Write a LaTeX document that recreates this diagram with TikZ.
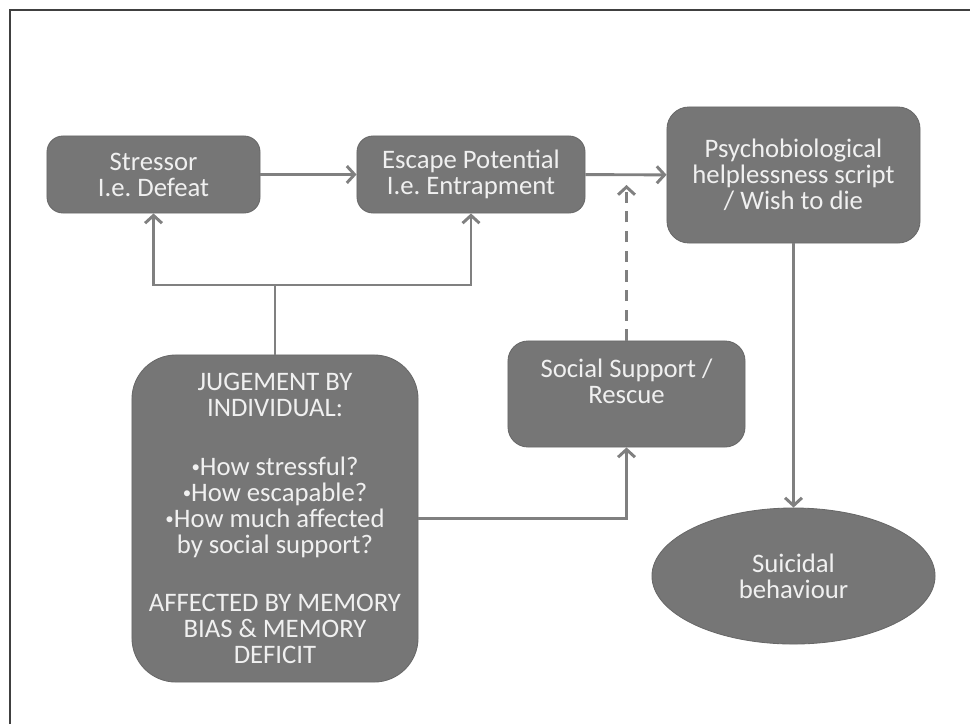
\documentclass[tikz,border=0pt]{standalone}
\usepackage{fontspec}
\setmainfont{Carlito}
\usetikzlibrary{arrows.meta,shapes.geometric}
\definecolor{BX}{RGB}{118,118,118}
\definecolor{BD}{RGB}{104,104,104}
\definecolor{LN}{RGB}{128,128,128}
\definecolor{TX}{RGB}{240,240,240}
\newcommand{\dotb}{\raisebox{2pt}{\fontsize{12}{12}\selectfont•}}
\frenchspacing

\begin{document}
\begin{tikzpicture}[x=0.025cm, y=-0.025cm,
    box/.style={draw=BD, line width=0.6pt, fill=BX, text=TX, align=center,
                inner sep=0pt, font=\fontsize{19}{18.5}\selectfont},
    ln/.style={draw=LN, line width=2.1pt},
    arr/.style={ln, -{Straight Barb[length=5.5pt,width=12pt,line width=2.1pt]}}]
          \useasboundingbox (0,0) rectangle (970,724);
          \draw[black!75, line width=1pt] (10,724) -- (10,10) -- (970,10);
          % boxes
          \node[box, rounded corners=0.4cm, minimum width=5.325cm, minimum height=1.925cm]
               (stressor) at (153.5,174.5) {Stressor\\I.e. Defeat};
          \node[box, rounded corners=0.4cm, minimum width=5.7cm, minimum height=1.925cm]
               (escape) at (471,174.5) {Escape Potential\\I.e. Entrapment};
          \node[box, rounded corners=0.55cm, minimum width=6.325cm, minimum height=3.4cm]
               (psycho) at (793.5,175) {Psychobiological\\helplessness script\\/ Wish to die};
          \node[box, rounded corners=1.1cm, minimum width=7.15cm, minimum height=8.175cm]
               (judge) at (275,518.5) {JUGEMENT BY\\INDIVIDUAL:\\[23pt]
                 \dotb How stressful?\\\dotb How escapable?\\\dotb How much affected\\by social support?\\[23pt]
                 AFFECTED BY MEMORY\\BIAS \& MEMORY\\DEFICIT};
          \node[box, rounded corners=0.5cm, minimum width=5.925cm, minimum height=2.65cm]
               (social) at (626.5,394) {Social Support /\\Rescue\\ \mbox{}};
          \node[box, ellipse, minimum width=7.075cm, minimum height=3.4cm]
               (suicide) at (793.5,576) {Suicidal\\behaviour};
          % connectors
          \coordinate (split) at (275,285);
          \coordinate (dashend) at (626.5,185);
          \draw[arr] (stressor) -- (escape);
          \draw[arr] (escape) -- (psycho);
          \draw[ln] (judge.north) -- (split);
          \draw[arr] (split) -| (stressor.south);
          \draw[arr] (split) -| (escape.south);
          \draw[arr] (judge.east) -| (social.south);
          \draw[arr, dash pattern=on 8pt off 6pt] (social.north) -- (dashend);
          \draw[arr] (psycho) -- (suicide);
        \end{tikzpicture}
\end{document}
